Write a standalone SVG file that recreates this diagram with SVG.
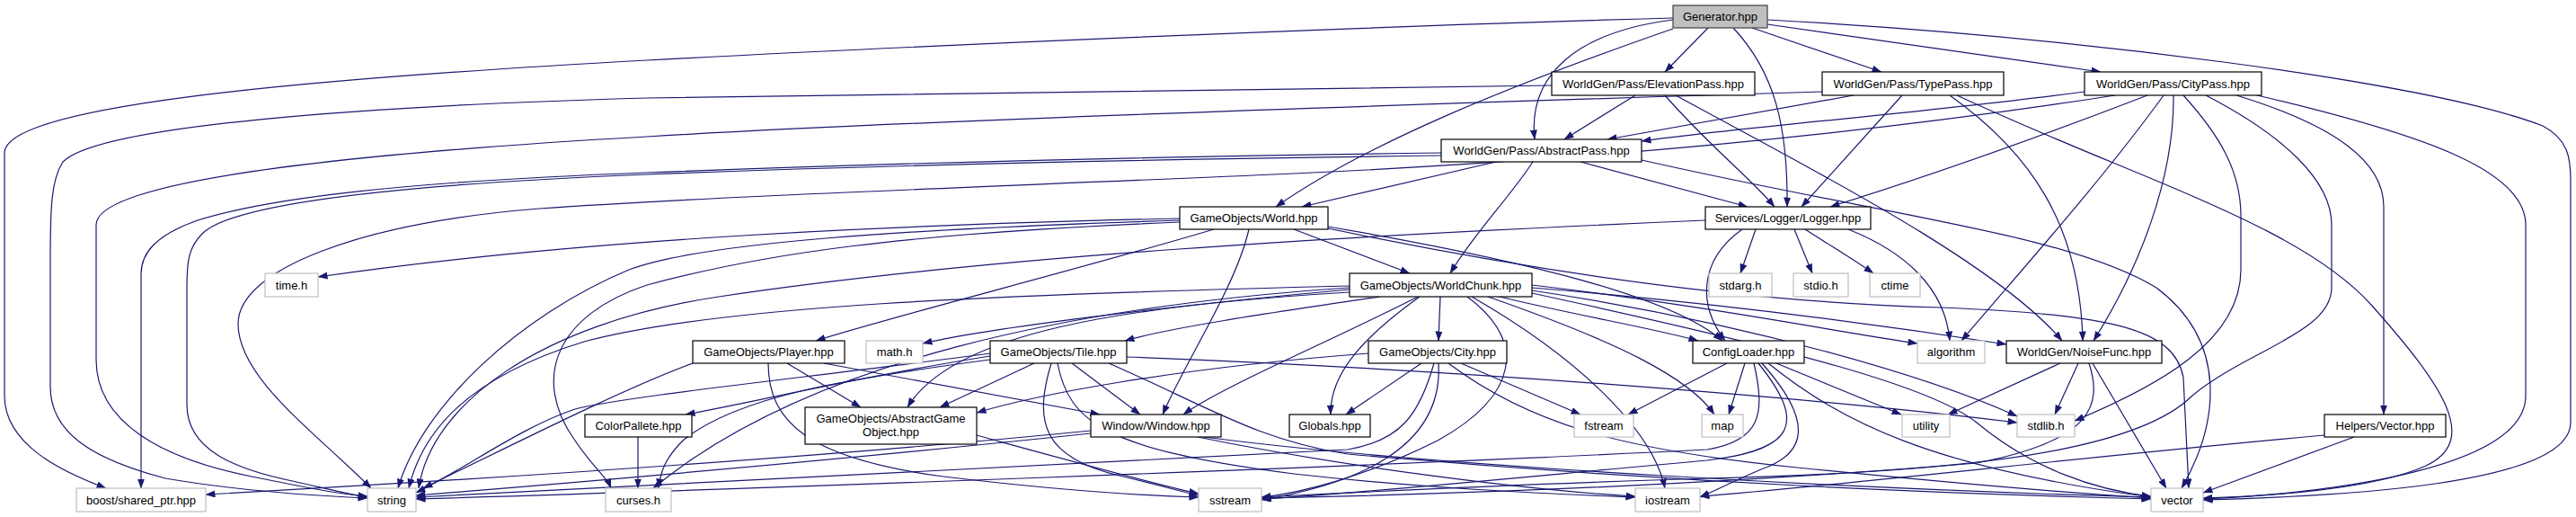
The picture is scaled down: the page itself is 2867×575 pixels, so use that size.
<svg xmlns="http://www.w3.org/2000/svg" width="2867" height="575" viewBox="0 0 2867 575">
<defs>
<marker id="a" viewBox="0 0 11 8" refX="10.5" refY="4" markerWidth="11" markerHeight="8" markerUnits="userSpaceOnUse" orient="auto"><path d="M0,0 L11,4 L0,8 z" fill="#191970"/></marker>
<style>
.e{fill:none;stroke:#191970;stroke-width:1.2;marker-end:url(#a)}
.n rect{fill:#ffffff;stroke:#000000;stroke-width:1.2}
.s rect{fill:#ffffff;stroke:#bfbfbf;stroke-width:1.2}
.r rect{fill:#bfbfbf;stroke:#404040;stroke-width:1.2}
text{font-family:"Liberation Sans",Arial,Helvetica,sans-serif;font-size:13px;fill:#000000;text-anchor:middle}
</style>
</defs>
<rect x="0" y="0" width="2867" height="575" fill="#ffffff"/>
<g id="edges">
<path class="e" d="M1862,20 C1500,30 1000,52 720,67 C300,90 5,120 5,170 L5,440 C5,495 70,525 118,543"/>
<path class="e" d="M1862,32 C1680,95 1520,160 1420,230"/>
<path class="e" d="M1862,22 C1760,35 1700,80 1708,155"/>
<path class="e" d="M1901,31 L1853,80"/>
<path class="e" d="M1929,31 C1975,80 1990,140 1989,230"/>
<path class="e" d="M1950,31 L2094,80"/>
<path class="e" d="M1967,27 L2338,80"/>
<path class="e" d="M1967,22 C2300,40 2700,90 2830,140 C2858,155 2861,175 2861,200 L2861,470 C2861,540 2600,552 2452,556"/>
<path class="e" d="M1727,95 C1300,100 900,105 720,109 C400,118 110,140 70,180 C57,200 56,230 56,290 L56,430 C56,480 100,510 184,532 C260,545 340,551 409,554"/>
<path class="e" d="M1820,106 L1741,155"/>
<path class="e" d="M1853,106 C1900,160 1950,200 1975,230"/>
<path class="e" d="M1865,106 C2000,180 2220,290 2295,379"/>
<path class="e" d="M2028,102 C1600,115 1000,135 720,152 C400,170 107,200 107,250 L107,400 C107,470 180,510 280,530 C340,542 380,550 409,552"/>
<path class="e" d="M2063,106 L1789,155"/>
<path class="e" d="M2117,106 L2005,230"/>
<path class="e" d="M2170,106 C2260,170 2315,250 2318,379"/>
<path class="e" d="M2178,106 C2380,200 2560,250 2640,340 C2720,430 2760,490 2700,518 C2640,545 2520,552 2452,554"/>
<path class="e" d="M2320,102 C2150,125 1950,140 1827,157"/>
<path class="e" d="M2354,106 C2200,130 1900,172 1440,193 C1100,208 800,218 600,232 C400,248 265,300 265,360 C265,420 350,480 413,543"/>
<path class="e" d="M2390,106 C2250,160 2150,195 2037,230"/>
<path class="e" d="M2408,106 C2340,200 2250,300 2183,379"/>
<path class="e" d="M2419,106 C2420,200 2380,300 2330,379"/>
<path class="e" d="M2430,106 C2470,150 2494,190 2494,240 L2494,300 C2494,380 2400,430 2309,468"/>
<path class="e" d="M2455,106 C2540,150 2595,200 2595,250 L2595,320 C2595,370 2500,390 2440,440 C2380,500 2200,525 1900,532 C1700,538 1500,548 1404,553"/>
<path class="e" d="M2489,106 C2600,140 2653,180 2653,230 L2653,461"/>
<path class="e" d="M2512,106 C2700,150 2811,190 2811,250 L2811,440 C2811,520 2600,548 2452,555"/>
<path class="e" d="M1604,170 C1200,175 900,185 720,192 C450,202 300,220 220,245 C172,262 157,282 157,305 L157,543"/>
<path class="e" d="M1604,173 C1200,178 900,187 720,194 C450,205 260,225 225,260 C210,275 208,290 208,320 L208,450 C208,500 260,522 330,536 C370,545 390,550 409,553"/>
<path class="e" d="M1665,180 L1449,230"/>
<path class="e" d="M1706,180 C1680,220 1640,260 1614,304"/>
<path class="e" d="M1759,180 L1945,230"/>
<path class="e" d="M1827,178 C2100,240 2300,260 2400,320 C2480,380 2470,470 2428,543"/>
<path class="e" d="M1898,245 C1500,262 1100,285 800,330 C600,360 480,450 466,543"/>
<path class="e" d="M1939,255 C1890,290 1890,340 1920,379"/>
<path class="e" d="M1954,255 L1937,304"/>
<path class="e" d="M1997,255 L2017,304"/>
<path class="e" d="M2009,255 C2040,275 2065,290 2085,304"/>
<path class="e" d="M2057,255 C2120,280 2165,320 2170,379"/>
<path class="e" d="M1313,243 C1000,250 650,265 354,308"/>
<path class="e" d="M1313,245 C1000,255 780,270 700,300 C580,350 470,450 443,543"/>
<path class="e" d="M1313,247 C1000,260 850,282 720,317 C620,350 590,420 640,490 C660,520 675,530 680,543"/>
<path class="e" d="M1351,255 C1200,300 1000,350 908,379"/>
<path class="e" d="M1390,255 C1375,320 1320,400 1294,461"/>
<path class="e" d="M1440,255 L1569,304"/>
<path class="e" d="M1478,252 C1700,290 1860,330 1917,379"/>
<path class="e" d="M1478,254 C1650,290 1900,335 2160,342 C2350,350 2420,365 2430,420 L2436,543"/>
<path class="e" d="M1536,330 C1400,350 1300,365 1252,379"/>
<path class="e" d="M1578,330 C1480,380 1360,430 1317,461"/>
<path class="e" d="M1580,330 C1510,380 1480,420 1481,461"/>
<path class="e" d="M1603,330 L1601,379"/>
<path class="e" d="M1633,330 C1700,380 1690,440 1600,490 C1520,530 1450,548 1404,553"/>
<path class="e" d="M1638,330 C1760,400 1840,480 1853,543"/>
<path class="e" d="M1656,330 C1800,380 1880,420 1908,461"/>
<path class="e" d="M1665,329 C1750,350 1840,365 1890,379"/>
<path class="e" d="M1705,317 C1900,340 2050,370 2134,382"/>
<path class="e" d="M1705,320 C1950,340 2150,370 2233,383"/>
<path class="e" d="M1705,323 C1950,360 2150,420 2245,463"/>
<path class="e" d="M1705,326 C2000,390 2150,430 2200,470 C2260,520 2330,545 2394,552"/>
<path class="e" d="M1502,322 C1300,340 1100,365 1027,382"/>
<path class="e" d="M1502,325 C1250,340 1060,370 1010,453"/>
<path class="e" d="M1502,320 C1200,340 900,400 727,543"/>
<path class="e" d="M1502,318 C1100,328 800,340 650,380 C520,420 470,480 455,543"/>
<path class="e" d="M771,404 C700,430 600,480 471,543"/>
<path class="e" d="M876,404 L958,453"/>
<path class="e" d="M917,404 L1224,461"/>
<path class="e" d="M855,404 C855,470 900,510 1050,530 C1200,548 1300,552 1334,553"/>
<path class="e" d="M1102,396 C950,420 850,445 763,461"/>
<path class="e" d="M1151,404 L1046,453"/>
<path class="e" d="M1193,404 L1269,461"/>
<path class="e" d="M1102,400 C950,420 820,440 760,490 C740,510 735,525 733,543"/>
<path class="e" d="M1102,393 C900,420 700,440 640,455 C580,475 520,520 463,548"/>
<path class="e" d="M1170,404 C1150,470 1160,510 1250,530 C1300,542 1320,548 1334,551"/>
<path class="e" d="M1177,404 C1190,470 1230,500 1440,527 C1600,545 1750,550 1820,553"/>
<path class="e" d="M1254,397 C1600,410 2000,440 2245,470"/>
<path class="e" d="M1234,404 C1340,450 1400,490 1500,505 C1900,540 2200,550 2394,555"/>
<path class="e" d="M1582,404 L1498,461"/>
<path class="e" d="M1523,393 C1300,410 1150,440 1087,459"/>
<path class="e" d="M1626,404 L1759,461"/>
<path class="e" d="M1596,404 C1580,460 1560,490 1500,500 C1100,520 700,540 463,553"/>
<path class="e" d="M1601,404 C1605,470 1560,530 1404,556"/>
<path class="e" d="M1612,404 C1700,470 1800,500 2000,520 C2200,540 2330,550 2394,554"/>
<path class="e" d="M1214,479 C900,510 500,535 229,550"/>
<path class="e" d="M1214,482 C900,515 600,540 463,551"/>
<path class="e" d="M1333,486 C1500,520 1700,545 1820,552"/>
<path class="e" d="M1340,486 C1600,520 2100,545 2394,553"/>
<path class="e" d="M710,486 L710,543"/>
<path class="e" d="M1087,484 C1200,515 1290,540 1334,549"/>
<path class="e" d="M1922,404 L1812,461"/>
<path class="e" d="M1942,404 L1924,461"/>
<path class="e" d="M1952,404 C1965,460 1960,490 1900,500 C1500,520 800,545 463,555"/>
<path class="e" d="M1957,404 C2010,470 2000,500 1900,512 C1700,530 1500,550 1404,555"/>
<path class="e" d="M1961,404 C2020,470 2010,505 1960,522 C1930,535 1910,545 1892,553"/>
<path class="e" d="M1968,404 C2050,470 2150,520 2394,553"/>
<path class="e" d="M1977,404 L2116,461"/>
<path class="e" d="M2293,404 L2168,461"/>
<path class="e" d="M2313,404 L2287,461"/>
<path class="e" d="M2329,404 L2411,543"/>
<path class="e" d="M2325,404 C2340,450 2330,490 2200,515 C1900,540 1600,550 1404,554"/>
<path class="e" d="M2587,484 C2300,510 2050,540 1892,552"/>
<path class="e" d="M2620,486 L2452,548"/>
</g>
<g id="n_generator" class="r"><rect x="1862" y="6" width="105" height="25"/><text x="1914.5" y="23">Generator.hpp</text></g>
<g id="n_elevation" class="n"><rect x="1727" y="80" width="226" height="26"/><text x="1840" y="97.5">WorldGen/Pass/ElevationPass.hpp</text></g>
<g id="n_typepass" class="n"><rect x="2028" y="80" width="202" height="26"/><text x="2129" y="97.5">WorldGen/Pass/TypePass.hpp</text></g>
<g id="n_citypass" class="n"><rect x="2320" y="80" width="197" height="26"/><text x="2418.5" y="97.5">WorldGen/Pass/CityPass.hpp</text></g>
<g id="n_abstractpass" class="n"><rect x="1604" y="155" width="223" height="25"/><text x="1715.5" y="172">WorldGen/Pass/AbstractPass.hpp</text></g>
<g id="n_world" class="n"><rect x="1313" y="230" width="165" height="25"/><text x="1395.5" y="247">GameObjects/World.hpp</text></g>
<g id="n_logger" class="n"><rect x="1898" y="230" width="184" height="25"/><text x="1990" y="247">Services/Logger/Logger.hpp</text></g>
<g id="n_worldchunk" class="n"><rect x="1502" y="304" width="203" height="26"/><text x="1603.5" y="321.5">GameObjects/WorldChunk.hpp</text></g>
<g id="n_time" class="s"><rect x="295" y="304" width="59" height="26"/><text x="324.5" y="321.5">time.h</text></g>
<g id="n_stdarg" class="s"><rect x="1902" y="304" width="70" height="26"/><text x="1937" y="321.5">stdarg.h</text></g>
<g id="n_stdio" class="s"><rect x="1996" y="304" width="61" height="26"/><text x="2026.5" y="321.5">stdio.h</text></g>
<g id="n_ctime" class="s"><rect x="2081" y="304" width="56" height="26"/><text x="2109" y="321.5">ctime</text></g>
<g id="n_player" class="n"><rect x="771" y="379" width="169" height="25"/><text x="855.5" y="396">GameObjects/Player.hpp</text></g>
<g id="n_math" class="s"><rect x="964" y="379" width="63" height="25"/><text x="995.5" y="396">math.h</text></g>
<g id="n_tile" class="n"><rect x="1102" y="379" width="152" height="25"/><text x="1178" y="396">GameObjects/Tile.hpp</text></g>
<g id="n_city" class="n"><rect x="1523" y="379" width="154" height="25"/><text x="1600" y="396">GameObjects/City.hpp</text></g>
<g id="n_config" class="n"><rect x="1884" y="379" width="124" height="25"/><text x="1946" y="396">ConfigLoader.hpp</text></g>
<g id="n_algorithm" class="s"><rect x="2134" y="379" width="75" height="25"/><text x="2171.5" y="396">algorithm</text></g>
<g id="n_noise" class="n"><rect x="2233" y="379" width="173" height="25"/><text x="2319.5" y="396">WorldGen/NoiseFunc.hpp</text></g>
<g id="n_colorpallete" class="n"><rect x="651" y="461" width="119" height="25"/><text x="710.5" y="478">ColorPallete.hpp</text></g>
<g id="n_abstractgo" class="n"><rect x="896" y="453" width="191" height="41"/><text x="991.5" y="470">GameObjects/AbstractGame</text><text x="991.5" y="485">Object.hpp</text></g>
<g id="n_window" class="n"><rect x="1214" y="461" width="145" height="25"/><text x="1286.5" y="478">Window/Window.hpp</text></g>
<g id="n_globals" class="n"><rect x="1435" y="461" width="90" height="25"/><text x="1480" y="478">Globals.hpp</text></g>
<g id="n_fstream" class="s"><rect x="1752" y="461" width="66" height="25"/><text x="1785" y="478">fstream</text></g>
<g id="n_map" class="s"><rect x="1894" y="461" width="46" height="25"/><text x="1917" y="478">map</text></g>
<g id="n_utility" class="s"><rect x="2117" y="461" width="53" height="25"/><text x="2143.5" y="478">utility</text></g>
<g id="n_stdlib" class="s"><rect x="2245" y="461" width="64" height="25"/><text x="2277" y="478">stdlib.h</text></g>
<g id="n_helpersvector" class="n"><rect x="2587" y="461" width="135" height="25"/><text x="2654.5" y="478">Helpers/Vector.hpp</text></g>
<g id="n_boost" class="s"><rect x="85" y="543" width="144" height="26"/><text x="157" y="560.5">boost/shared_ptr.hpp</text></g>
<g id="n_string" class="s"><rect x="409" y="543" width="54" height="26"/><text x="436" y="560.5">string</text></g>
<g id="n_curses" class="s"><rect x="674" y="543" width="73" height="26"/><text x="710.5" y="560.5">curses.h</text></g>
<g id="n_sstream" class="s"><rect x="1334" y="543" width="70" height="26"/><text x="1369" y="560.5">sstream</text></g>
<g id="n_iostream" class="s"><rect x="1820" y="543" width="72" height="26"/><text x="1856" y="560.5">iostream</text></g>
<g id="n_vector" class="s"><rect x="2394" y="543" width="58" height="26"/><text x="2423" y="560.5">vector</text></g>
</svg>
